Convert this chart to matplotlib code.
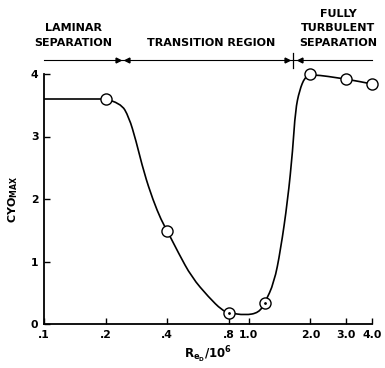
import matplotlib
matplotlib.use("Agg")
import matplotlib.pyplot as plt
import matplotlib.transforms as mtransforms
from matplotlib.path import Path
from matplotlib.patches import PathPatch
import numpy as np

plt.rcParams['font.family'] = ['DejaVu Sans']
plt.rcParams['mathtext.fontset'] = 'dejavusans'
plt.rcParams['mathtext.default'] = 'bf'

# measured data points (Re_D/10^6, CYO_MAX)
point_x = [0.2, 0.4, 0.8, 1.2, 2.0, 3.0, 4.0]
point_y = [3.6, 1.49, 0.18, 0.34, 4.0, 3.92, 3.84]

# faired curve
curve_x = [0.1, 0.2, 0.237, 0.26, 0.281, 0.308, 0.341, 0.374, 0.4, 0.453, 0.526,
           0.637, 0.74, 0.8, 0.96, 1.12, 1.2, 1.33, 1.43, 1.55, 1.64, 1.69, 1.77,
           1.88, 2.0, 3.0, 4.0]
curve_y = [3.6, 3.6, 3.54, 3.31, 2.94, 2.42, 1.98, 1.66, 1.49, 1.14, 0.75,
           0.43, 0.22, 0.18, 0.14, 0.18, 0.34, 0.66, 1.18, 1.98, 2.78, 3.42, 3.74,
           3.95, 4.0, 3.92, 3.84]

dotted_x = [0.8, 1.2]
dotted_y = [0.18, 0.34]

xticks = [0.1, 0.2, 0.4, 0.8, 1.0, 2.0, 3.0, 4.0]
xticklabels = ['.1', '.2', '.4', '.8', '1.0', '2.0', '3.0', '4.0']
yticks = [0, 1, 2, 3, 4]

# region boundaries along the top arrow line
laminar_end = 0.23
transition_start = 0.254
transition_end = 1.54
divider = 1.65
turbulent_start = 1.78

fig = plt.figure(figsize=(3.85, 3.68), dpi=100)
ax = fig.add_axes([44/385, 44/368, 328/385, 250/368])

# smooth faired curve: quadratic Bezier path with the read points as controls
verts = [(curve_x[0], curve_y[0]), (curve_x[1], curve_y[1])]
codes = [Path.MOVETO, Path.LINETO]
for i in range(2, len(curve_x) - 1):
    mx = np.sqrt(curve_x[i] * curve_x[i + 1])
    my = 0.5 * (curve_y[i] + curve_y[i + 1])
    verts += [(curve_x[i], curve_y[i]), (mx, my)]
    codes += [Path.CURVE3, Path.CURVE3]
verts.append((curve_x[-1], curve_y[-1]))
codes.append(Path.LINETO)
ax.add_patch(PathPatch(Path(verts, codes), fill=False, edgecolor='black',
                       lw=1.2, zorder=2, clip_on=False))

ax.plot(point_x, point_y, 'o', mfc='white', mec='black', mew=1.0, ms=8,
        zorder=3, clip_on=False)
ax.plot(dotted_x, dotted_y, '.', color='black', ms=2, zorder=4, clip_on=False)

ax.set_xscale('log')
ax.set_xlim(0.1, 4.0)
ax.set_ylim(0, 4)
ax.set_xticks(xticks)
ax.set_xticklabels(xticklabels)
ax.xaxis.set_minor_locator(matplotlib.ticker.NullLocator())
ax.set_yticks(yticks)
ax.tick_params(direction='in', length=4, width=1, labelsize=7.8, pad=4)
for lab in ax.get_xticklabels() + ax.get_yticklabels():
    lab.set_fontweight('bold')
ax.spines['top'].set_visible(False)
ax.spines['right'].set_visible(False)
ax.spines['left'].set_linewidth(1.3)
ax.spines['bottom'].set_linewidth(1.3)

ax.set_xlabel(r'$R_{e_D}/10^6$', fontsize=8.5, labelpad=4)
ax.set_ylabel(r'CYO$_{MAX}$', fontsize=8, fontweight='bold', labelpad=8)

# region arrow line above the plot
trans = mtransforms.blended_transform_factory(ax.transData, ax.transAxes)
yl = 1.056
ax.plot([0.1, 4.0], [yl, yl], color='black', lw=0.8, transform=trans, clip_on=False)
ax.plot([laminar_end, transition_end], [yl, yl], '>', color='black', ms=3.5,
        transform=trans, clip_on=False)
ax.plot([transition_start, turbulent_start], [yl, yl], '<', color='black', ms=3.5,
        transform=trans, clip_on=False)
ax.plot([divider, divider], [1.024, 1.084], color='black', lw=0.9,
        transform=trans, clip_on=False)

tkw = dict(fontsize=8, fontweight='bold', ha='center', va='center')
fig.text(73/385, 1 - 28/368, 'LAMINAR', **tkw)
fig.text(73/385, 1 - 43/368, 'SEPARATION', **tkw)
fig.text(211/385, 1 - 43/368, 'TRANSITION REGION', **tkw)
fig.text(338/385, 1 - 14/368, 'FULLY', **tkw)
fig.text(338/385, 1 - 28/368, 'TURBULENT', **tkw)
fig.text(338/385, 1 - 43/368, 'SEPARATION', **tkw)

fig.savefig('out.png', dpi=100)
